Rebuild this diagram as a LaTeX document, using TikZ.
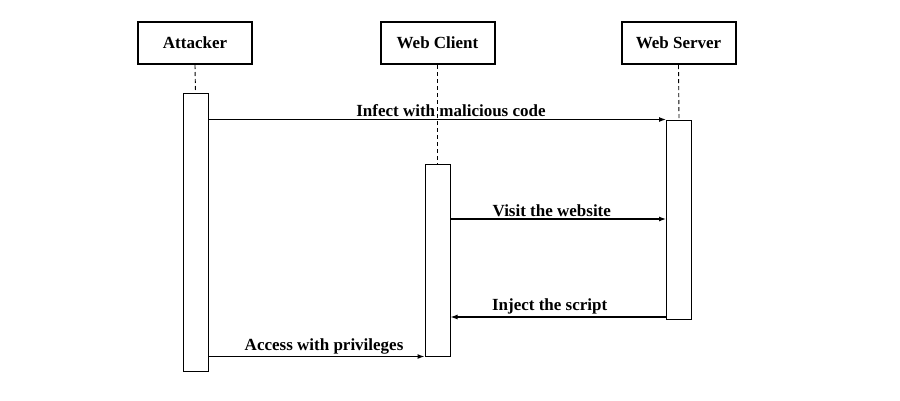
\documentclass[tikz,border=0pt]{standalone}
\usepackage{fontspec}
\setmainfont{Liberation Serif}
\usetikzlibrary{arrows.meta}

\begin{document}
\begin{tikzpicture}[
  x=1pt, y=-1pt,
  actor/.style={draw, line width=2pt, fill=white, minimum width=114pt, minimum height=42pt,
    font=\fontsize{17}{20}\selectfont\bfseries},
  actbar/.style={draw, line width=1pt, fill=white, minimum width=25pt, inner sep=0pt},
  life/.style={line width=0.9pt, dash pattern=on 4pt off 3pt},
  msg/.style={line width=1.2pt, -{Latex[length=7pt,width=5pt]}},
  lbl/.style={above, inner sep=2pt, font=\fontsize{17}{20}\selectfont\bfseries}
]

\useasboundingbox [fill=white] (0,0) rectangle (900,400);

% actors
\node [actor] (attacker) at (195,43) {Attacker};
\node [actor] (client) at (437.5,43) {Web Client};
\node [actor] (server) at (678.5,43) {Web Server};

% activation bars
\node [actbar, minimum height=278pt] (attackerAct) at (195.5,232) {};
\node [actbar, minimum height=192pt] (clientAct) at (437.5,260) {};
\node [actbar, minimum height=199pt] (serverAct) at (679,219.5) {};

% lifelines
\draw [life] (attacker.south) -- (attackerAct.north);
\draw [life] (client.south) -- (clientAct.north);
\draw [life] (server.south) -- (serverAct.north);

\coordinate (visitY) at (0,219);
\coordinate (injectY) at (0,317);

% messages
\draw [msg] (attackerAct.east |- serverAct.north) -- (serverAct.north west)
  node [lbl, pos=0.53] {Infect with malicious code};
\draw [msg] (clientAct.east |- visitY) -- (serverAct.west |- visitY)
  node [lbl, pos=0.47] {Visit the website};
\draw [msg] (serverAct.west |- injectY) -- (clientAct.east |- injectY)
  node [lbl, pos=0.54] {Inject the script};
\draw [msg] (attackerAct.east |- clientAct.south) -- (clientAct.south west)
  node [lbl, pos=0.535] {Access with privileges};

\end{tikzpicture}
\end{document}
